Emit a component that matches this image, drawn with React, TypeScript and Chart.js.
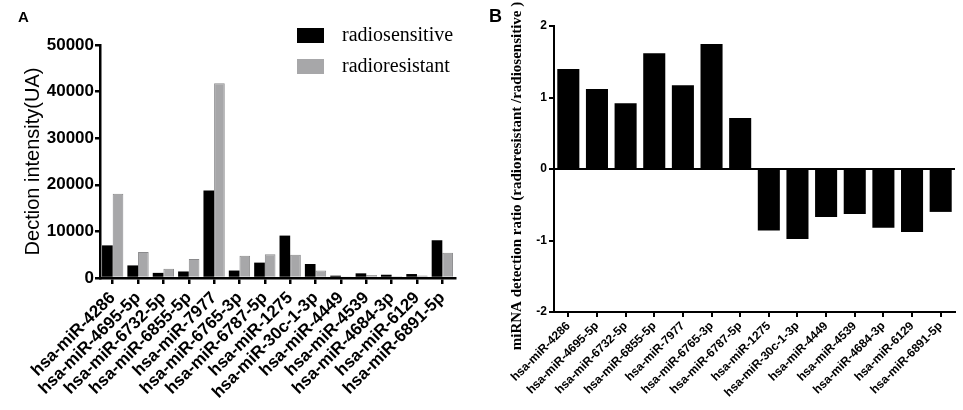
import React, { useEffect, useRef } from "react"
import { Chart, registerables } from "chart.js"

Chart.register(...registerables)
Chart.defaults.color = "#000"

const mirnas = [
  "hsa-miR-4286",
  "hsa-miR-4695-5p",
  "hsa-miR-6732-5p",
  "hsa-miR-6855-5p",
  "hsa-miR-7977",
  "hsa-miR-6765-3p",
  "hsa-miR-6787-5p",
  "hsa-miR-1275",
  "hsa-miR-30c-1-3p",
  "hsa-miR-4449",
  "hsa-miR-4539",
  "hsa-miR-4684-3p",
  "hsa-miR-6129",
  "hsa-miR-6891-5p",
]
const radiosensitive = [7000, 2700, 1100, 1400, 18800, 1600, 3300, 9100, 3000, 500, 1000, 700, 850, 8100]
const radioresistant = [18100, 5600, 2000, 4100, 41800, 4800, 5100, 5000, 1600, 300, 650, 350, 550, 5400]
const ratios = [1.4, 1.12, 0.92, 1.62, 1.17, 1.75, 0.715, -0.86, -0.98, -0.67, -0.63, -0.82, -0.88, -0.6]

const ratioTitle = "miRNA detection ratio (radioresistant /radiosensitive )"

const SANS = '"Liberation Sans", Arial, sans-serif'
const SERIF = '"Liberation Serif", "Times New Roman", serif'

// legend drawn as two stacked boxes inside the plot, like the figure
const boxLegend = {
  id: "boxLegend",
  afterDraw(chart: Chart) {
    const ctx = chart.ctx
    ctx.save()
    ctx.font = `20px ${SERIF}`
    ctx.textBaseline = "middle"
    chart.data.datasets.forEach((ds: any, i: number) => {
      const y = 28 + i * 31
      ctx.fillStyle = ds.backgroundColor
      ctx.fillRect(297, y, 27, 15)
      ctx.fillStyle = "#000"
      ctx.fillText(ds.label, 342, y + 8)
    })
    ctx.restore()
  },
}

// the ratio axis title runs a bit past the plot, so it is placed by hand
const sideTitle = {
  id: "sideTitle",
  afterDraw(chart: Chart) {
    const { ctx, chartArea } = chart
    ctx.save()
    ctx.translate(42, (chartArea.top + chartArea.bottom) / 2 + 7)
    ctx.rotate(-Math.PI / 2)
    ctx.font = `bold 15px ${SERIF}`
    ctx.textAlign = "center"
    ctx.textBaseline = "middle"
    ctx.fillStyle = "#000"
    ctx.fillText(ratioTitle, 0, 0)
    ctx.restore()
  },
}

const IntensityChart: React.FC = () => {
  const canvasRef = useRef<HTMLCanvasElement>(null)

  useEffect(() => {
    const ctx = canvasRef.current?.getContext("2d")
    if (!ctx) return
    const chart = new Chart(ctx, {
      type: "bar",
      data: {
        labels: mirnas,
        datasets: [
          {
            label: "radiosensitive",
            data: radiosensitive,
            backgroundColor: "#000",
            borderWidth: 0,
          },
          {
            label: "radioresistant",
            data: radioresistant,
            backgroundColor: "#a7a7a9",
            borderColor: "#8a8a8c",
            borderWidth: 1,
          },
        ],
      },
      options: {
        responsive: false,
        animation: false,
        layout: { padding: { left: 0, top: 45, right: 15, bottom: 0 } },
        datasets: { bar: { categoryPercentage: 0.84, barPercentage: 1 } },
        plugins: { legend: { display: false }, tooltip: { enabled: false } },
        scales: {
          x: {
            afterFit: (s: any) => {
              s.height = 132
            },
            border: { color: "#000", width: 2.5 },
            grid: { offset: false, drawOnChartArea: false, color: "#000", lineWidth: 2.5, tickLength: 6 },
            ticks: {
              autoSkip: false,
              minRotation: 45,
              maxRotation: 45,
              padding: 4,
              font: { family: SANS, size: 17, weight: "bold" },
            },
          },
          y: {
            min: 0,
            max: 50000,
            afterFit: (s: any) => {
              s.width = 100
            },
            border: { color: "#000", width: 2.5 },
            grid: { drawOnChartArea: false, color: "#000", lineWidth: 2.5, tickLength: 5 },
            ticks: {
              stepSize: 10000,
              padding: 1,
              callback: (v: any) => String(v),
              font: { family: SANS, size: 17, weight: "bold" },
            },
            title: {
              display: true,
              text: "Dection intensity(UA)",
              padding: { top: 21, bottom: 0 },
              font: { family: SANS, size: 20 },
            },
          },
        },
      },
      plugins: [boxLegend],
    })
    return () => chart.destroy()
  }, [])

  return <canvas ref={canvasRef} width={470} height={410} style={{ display: "block" }} />
}

const RatioChart: React.FC = () => {
  const canvasRef = useRef<HTMLCanvasElement>(null)

  useEffect(() => {
    const ctx = canvasRef.current?.getContext("2d")
    if (!ctx) return
    const chart = new Chart(ctx, {
      type: "bar",
      data: {
        labels: mirnas,
        datasets: [
          {
            label: "ratio",
            data: ratios,
            backgroundColor: "#000",
            borderWidth: 0,
          },
        ],
      },
      options: {
        responsive: false,
        animation: false,
        layout: { padding: { left: 0, top: 26, right: 8, bottom: 0 } },
        datasets: { bar: { categoryPercentage: 1, barPercentage: 0.77 } },
        plugins: { legend: { display: false }, tooltip: { enabled: false } },
        scales: {
          x: {
            afterFit: (s: any) => {
              s.height = 98
            },
            border: { color: "#000", width: 2 },
            grid: { offset: false, drawOnChartArea: false, color: "#000", lineWidth: 2, tickLength: 5 },
            ticks: {
              autoSkip: false,
              minRotation: 45,
              maxRotation: 45,
              padding: 2,
              font: { family: SANS, size: 12, weight: "bold" },
            },
          },
          y: {
            min: -2,
            max: 2,
            afterFit: (s: any) => {
              s.width = 79
            },
            border: { color: "#000", width: 2 },
            grid: {
              color: (c: any) => (c.tick && c.tick.value === 0 ? "#000" : "rgba(0,0,0,0)"),
              tickColor: "#000",
              lineWidth: 2,
              tickLength: 5,
            },
            ticks: {
              stepSize: 1,
              padding: 2,
              font: { family: SANS, size: 12, weight: "bold" },
            },
          },
        },
      },
      plugins: [sideTitle],
    })
    return () => chart.destroy()
  }, [])

  return <canvas ref={canvasRef} width={488} height={410} style={{ display: "block" }} />
}

const App: React.FC = () => {
  const letter: React.CSSProperties = {
    position: "absolute",
    fontFamily: SANS,
    fontWeight: "bold",
    lineHeight: 1,
  }
  return (
    <div style={{ position: "absolute", left: 0, top: 0, width: 963, height: 410, background: "#fff" }}>
      <div style={{ position: "absolute", left: 0, top: 0 }}>
        <IntensityChart />
      </div>
      <div style={{ position: "absolute", left: 475, top: 0 }}>
        <RatioChart />
      </div>
      <div style={{ ...letter, left: 18, top: 9, fontSize: 15 }}>A</div>
      <div style={{ ...letter, left: 489, top: 7, fontSize: 18 }}>B</div>
    </div>
  )
}

export default App
